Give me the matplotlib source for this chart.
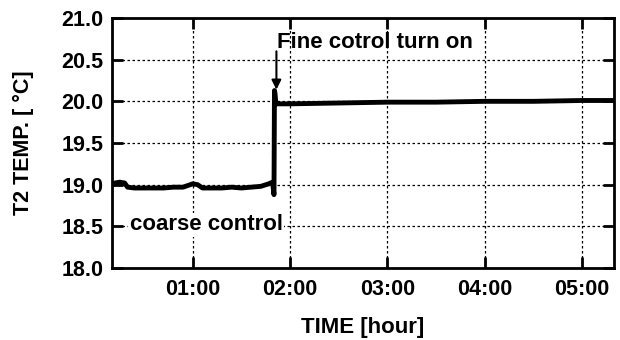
import matplotlib
matplotlib.use("Agg")
import matplotlib.pyplot as plt

# data (time in hours, temperature in degC)
time_h = [0.17, 0.20, 0.25, 0.30, 0.33, 0.40, 0.50, 0.60, 0.70, 0.80, 0.90,
          0.95, 1.00, 1.05, 1.10, 1.20, 1.30, 1.40, 1.50, 1.60, 1.70, 1.78,
          1.82, 1.835, 1.84, 1.845, 1.855, 1.90, 2.00, 2.50, 3.00, 3.50,
          4.00, 4.50, 5.00, 5.33]
temp_c = [18.99, 19.02, 19.03, 19.02, 18.97, 18.96, 18.96, 18.96, 18.96, 18.97, 18.97,
          18.99, 19.01, 19.00, 18.96, 18.96, 18.96, 18.97, 18.96, 18.97, 18.98, 19.01,
          19.03, 18.88, 20.13, 20.10, 19.97, 19.97, 19.97, 19.98, 19.99, 19.99,
          20.00, 20.00, 20.01, 20.01]

xticks = [1, 2, 3, 4, 5]
xticklabels = ["01:00", "02:00", "03:00", "04:00", "05:00"]
yticks = [18.0, 18.5, 19.0, 19.5, 20.0, 20.5, 21.0]

plt.rcParams['font.family'] = ['Liberation Sans', 'DejaVu Sans']
plt.rcParams['font.weight'] = 'bold'

fig = plt.figure(figsize=(6.2, 3.4), dpi=100)
ax = fig.add_axes([112/620, 1-268/340, (614-112)/620, (268-18)/340])

ax.plot(time_h, temp_c, color='black', lw=3.5, solid_joinstyle='round', zorder=3)

ax.set_xlim(0.17, 5.33)
ax.set_ylim(18.0, 21.0)
ax.set_xticks(xticks)
ax.set_xticklabels(xticklabels)
ax.set_yticks(yticks)
ax.set_yticklabels([f"{v:.1f}" for v in yticks])
ax.grid(True, color='black', linestyle=(0, (2, 2)), linewidth=0.9)
ax.tick_params(direction='in', length=8, width=2, top=True, right=True,
               labelsize=15.5)
ax.tick_params(axis='y', pad=6)
ax.tick_params(axis='x', pad=8)
for lab in ax.get_xticklabels() + ax.get_yticklabels():
    lab.set_fontweight('bold')
for s in ax.spines.values():
    s.set_linewidth(2)

ax.set_xlabel("TIME [hour]", fontsize=16, fontweight='bold')
ax.set_ylabel("T2 TEMP. [ °C]", fontsize=15.5, fontweight='bold')
ax.xaxis.set_label_coords(0.5, 1 - (327 - 18) / 250, transform=ax.transAxes)
ax.yaxis.set_label_coords((23 - 112) / 502, 0.5, transform=ax.transAxes)
ax.xaxis.label.set_va('center')
ax.yaxis.label.set_va('center')

ax.annotate("", xy=(1.86, 20.14), xytext=(1.86, 20.6),
            arrowprops=dict(arrowstyle='-|>', color='black', lw=1.5,
                            mutation_scale=14, shrinkA=0, shrinkB=0), zorder=4)
ax.text(1.87, 20.71, "Fine cotrol turn on", fontsize=16, fontweight='bold',
        va='center', ha='left', zorder=5)
ax.text(0.35, 18.52, "coarse control", fontsize=16, fontweight='bold',
        va='center', ha='left', zorder=5,
        bbox=dict(facecolor='white', edgecolor='none', pad=1))

fig.savefig("out.png", dpi=100)
